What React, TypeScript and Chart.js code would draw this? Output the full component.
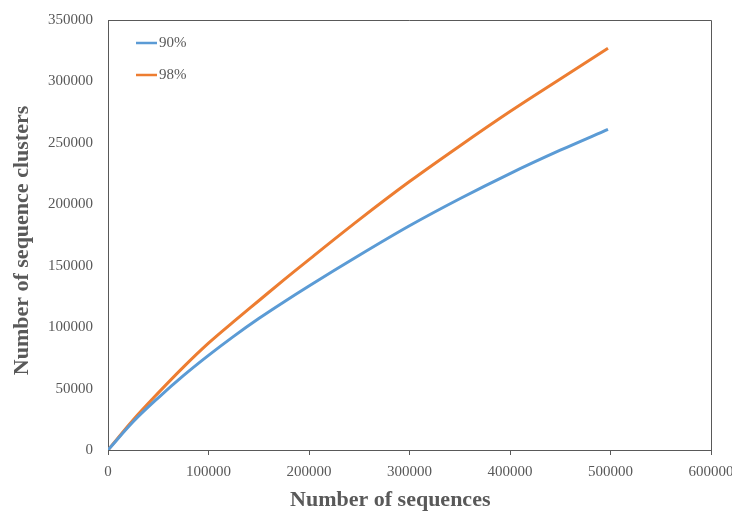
import React, { useEffect, useRef } from "react";
import { Chart, registerables } from "chart.js";

Chart.register(...registerables);

const seqCounts = [0, 25000, 50000, 75000, 100000, 125000, 150000, 175000, 200000, 250000, 300000, 350000, 400000, 450000, 497500];
const clusters90 = [0, 23000, 42500, 60500, 77000, 92500, 107000, 120500, 133500, 158500, 182500, 204500, 225000, 244000, 261000];
const clusters98 = [0, 24500, 46500, 67500, 87000, 104500, 121500, 138500, 155000, 187500, 218500, 247500, 275500, 302000, 327000];

const seriesNames = ["90%", "98%"];
const seriesColors = ["#5B9BD5", "#ED7D31"];
const xTitle = "Number of sequences";
const yTitle = "Number of sequence clusters";

const legendPlugin = {
  id: "customLegend",
  afterDraw(chart: any) {
    const ctx = chart.ctx;
    const area = chart.chartArea;
    ctx.save();
    seriesNames.forEach((name, i) => {
      const y = area.top + 23 + i * 32;
      const x0 = area.left + 28;
      ctx.strokeStyle = seriesColors[i];
      ctx.lineWidth = 2.5;
      ctx.beginPath();
      ctx.moveTo(x0, y);
      ctx.lineTo(x0 + 21, y);
      ctx.stroke();
      ctx.fillStyle = "#595959";
      ctx.font = "15px 'Liberation Serif', serif";
      ctx.textBaseline = "middle";
      ctx.textAlign = "left";
      ctx.fillText(name, x0 + 23, y);
    });
    ctx.restore();
  },
};

const framePlugin = {
  id: "frame",
  afterDraw(chart: any) {
    const ctx = chart.ctx;
    const a = chart.chartArea;
    ctx.save();
    ctx.strokeStyle = "#595959";
    ctx.lineWidth = 1;
    ctx.beginPath();
    ctx.moveTo(a.left, a.top + 0.5);
    ctx.lineTo(a.right + 0.5, a.top + 0.5);
    ctx.lineTo(a.right + 0.5, a.bottom);
    ctx.stroke();
    ctx.restore();
  },
};

export default function App() {
  const ref = useRef<HTMLCanvasElement | null>(null);

  useEffect(() => {
    if (!ref.current) return;
    const mk = (vals: number[]) => seqCounts.map((x, i) => ({ x, y: vals[i] }));
    const chart = new Chart(ref.current, {
      type: "line",
      data: {
        datasets: [
          {
            label: seriesNames[0],
            data: mk(clusters90),
            borderColor: seriesColors[0],
            backgroundColor: seriesColors[0],
            borderWidth: 3,
            pointRadius: 0,
            cubicInterpolationMode: "monotone",
          },
          {
            label: seriesNames[1],
            data: mk(clusters98),
            borderColor: seriesColors[1],
            backgroundColor: seriesColors[1],
            borderWidth: 3,
            pointRadius: 0,
            cubicInterpolationMode: "monotone",
          },
        ],
      },
      options: {
        responsive: false,
        animation: false,
        devicePixelRatio: 1,
        layout: { padding: { top: 20, right: 21, left: 0, bottom: 0 } },
        plugins: {
          legend: { display: false },
          tooltip: { enabled: false },
        },
        scales: {
          x: {
            type: "linear",
            min: 0,
            max: 600000,
            afterFit: (s: any) => {
              s.height = 63;
              s.paddingLeft = 0;
              s.paddingRight = 0;
            },
            ticks: {
              stepSize: 100000,
              padding: 8,
              maxRotation: 0,
              autoSkip: false,
              color: "#595959",
              font: { family: "'Liberation Serif', serif", size: 15 },
              callback: (v: any) => String(v),
            },
            grid: {
              drawOnChartArea: false,
              drawTicks: true,
              tickLength: 5,
              color: "#595959",
            },
            border: { display: true, color: "#595959", width: 1 },
            title: {
              display: true,
              text: xTitle + "       ",
              color: "#595959",
              font: { family: "'Liberation Serif', serif", size: 22, weight: "bold", lineHeight: "26px" },
              padding: { top: 0, bottom: 0 },
            },
          },
          y: {
            type: "linear",
            min: 0,
            max: 350000,
            afterFit: (s: any) => {
              s.width = 108;
              s.paddingTop = 0;
              s.paddingBottom = 0;
            },
            ticks: {
              stepSize: 50000,
              padding: 15,
              color: "#595959",
              font: { family: "'Liberation Serif', serif", size: 15 },
              callback: (v: any) => String(v),
            },
            grid: { drawOnChartArea: false, drawTicks: false },
            border: { display: true, color: "#595959", width: 1 },
            title: {
              display: true,
              text: yTitle + "  ",
              color: "#595959",
              font: { family: "'Liberation Serif', serif", size: 22, weight: "bold", lineHeight: "26px" },
              padding: { top: 9, bottom: 0 },
            },
          },
        },
      },
      plugins: [framePlugin, legendPlugin],
    } as any);
    return () => chart.destroy();
  }, []);

  return (
    <div style={{ position: "absolute", left: 0, top: 0, width: 732, height: 513, background: "#fff" }}>
      <canvas ref={ref} width={732} height={513} style={{ display: "block" }} />
    </div>
  );
}
